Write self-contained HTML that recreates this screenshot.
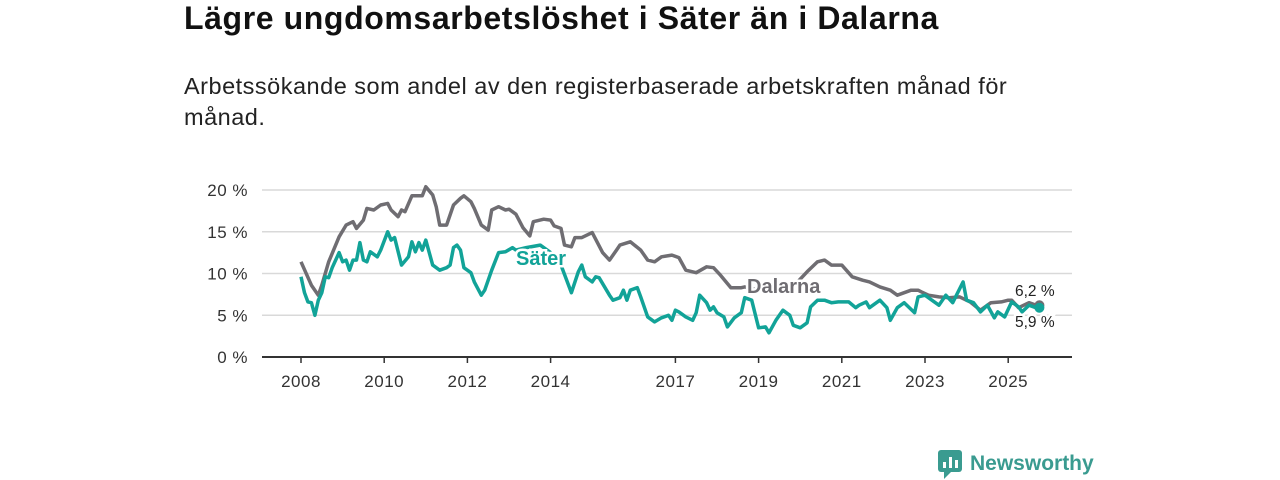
<!DOCTYPE html>
<html><head><meta charset="utf-8"><style>
body{margin:0;background:#fff;font-family:"Liberation Sans","DejaVu Sans",sans-serif;}
#wrap{position:relative;width:1280px;height:480px;overflow:hidden;}
h1{position:absolute;left:184px;top:0px;margin:0;font-size:32px;font-weight:bold;color:#111;letter-spacing:0.6px;}
p.sub{position:absolute;left:184px;top:71px;margin:0;font-size:23.5px;line-height:31px;color:#222;width:860px;letter-spacing:0.5px;}
svg{position:absolute;left:0;top:0;}
</style></head><body><div id="wrap">
<h1>Lägre ungdomsarbetslöshet i Säter än i Dalarna</h1>
<p class="sub">Arbetssökande som andel av den registerbaserade arbetskraften månad för månad.</p>
<svg id="c" width="1280" height="480"></svg>
</div>
<script>
const yTicks=[0,5,10,15,20];
const yTickLabels=["0 %","5 %","10 %","15 %","20 %"];
const xTickYears=[2008,2010,2012,2014,2017,2019,2021,2023,2025];
// month index since Jan 2008
const dalMonths=[0,3,5,6,8,11,13,15,16,18,19,21,23,25,26,28,29,30,32,35,36,38,39,40,42,44,46,47,49,50,52,54,55,57,59,60,62,64,66,67,70,72,73,75,76,78,79,81,84,87,89,91,92,95,98,100,102,104,107,109,111,114,117,119,121,124,127,128,132,137,141,146,149,151,153,156,159,162,164,167,170,172,174,176,178,179,181,184,187,190,193,196,199,202,204,205,207,210,212,213];
const dalValues=[11.4,8.6,7.4,8.6,11.4,14.4,15.8,16.2,15.4,16.4,17.8,17.6,18.2,18.4,17.6,16.8,17.6,17.4,19.3,19.3,20.4,19.4,18.0,15.8,15.8,18.2,19.0,19.3,18.6,17.8,15.8,15.2,17.6,18.0,17.6,17.7,17.1,15.5,14.5,16.2,16.5,16.4,15.7,15.4,13.4,13.2,14.3,14.3,14.9,12.5,11.6,12.8,13.4,13.8,12.8,11.6,11.4,12.0,12.2,11.9,10.4,10.1,10.8,10.7,9.8,8.3,8.3,8.4,8.0,7.8,8.0,10.2,11.4,11.6,11.0,11.0,9.6,9.2,9.0,8.4,8.0,7.4,7.7,8.0,8.0,7.8,7.4,7.2,7.1,7.2,6.6,5.6,6.5,6.6,6.8,6.8,5.9,6.5,6.2,6.2];
const satMonths=[0,1,2,3,4,5,6,7,8,9,11,12,13,14,15,16,17,18,19,20,22,23,25,26,27,29,31,32,33,34,35,36,38,40,42,43,44,45,46,47,49,50,52,53,55,57,59,61,62,65,69,72,75,78,80,81,82,84,85,86,89,90,92,93,94,95,97,98,100,102,104,106,107,108,109,111,113,114,115,117,118,119,120,122,123,125,127,128,130,132,134,135,137,139,141,142,144,146,147,149,151,153,155,158,160,161,163,164,167,169,170,172,174,177,178,180,182,184,186,188,191,192,194,196,198,200,201,203,205,207,208,210,212,213];
const satValues=[9.6,7.7,6.6,6.5,5.0,6.8,7.7,9.6,9.5,10.7,12.5,11.4,11.6,10.4,11.6,11.6,13.7,11.6,11.4,12.6,12.0,12.8,15.0,14.0,14.3,11.0,12.0,13.8,12.6,13.7,12.8,14.0,11.0,10.4,10.7,11.0,13.1,13.4,12.8,10.7,10.1,9.0,7.4,8.0,10.4,12.5,12.6,13.1,12.8,13.1,13.4,12.5,11.0,7.7,10.2,11.0,9.6,9.0,9.6,9.5,7.4,6.8,7.1,8.0,6.8,8.0,8.3,7.2,4.8,4.2,4.7,5.0,4.4,5.6,5.4,4.8,4.4,5.3,7.4,6.5,5.6,6.0,5.3,4.8,3.6,4.7,5.3,7.1,6.8,3.5,3.6,2.9,4.4,5.6,5.0,3.8,3.5,4.1,6.0,6.8,6.8,6.5,6.6,6.6,5.9,6.2,6.6,5.9,6.8,5.9,4.4,5.9,6.5,5.3,7.2,7.4,6.8,6.2,7.4,6.5,9.0,6.8,6.5,5.4,6.2,4.7,5.4,4.8,6.6,6.0,5.4,6.2,5.9,5.9];

const NS="http://www.w3.org/2000/svg";
const svg=document.getElementById('c');
const X0=262,X1=1072;
const xM=m=>301+m*41.6/12;
const xY=y=>xM((y-2008)*12);
const yV=v=>357-v*8.35;
function mk(t,a,p){const e=document.createElementNS(NS,t);for(const k in a)e.setAttribute(k,a[k]);(p||svg).appendChild(e);return e;}
yTicks.forEach((v,i)=>{
  if(v>0){const g=mk('line',{x1:X0,x2:X1,y1:yV(v),y2:yV(v),stroke:'#d9d9d9','stroke-width':1.5});
  
  }
  const t=mk('text',{x:248,y:yV(v)+6,'text-anchor':'end','font-size':17,fill:'#333','letter-spacing':0.5});t.textContent=yTickLabels[i];
  
  
});
const ax=mk('line',{x1:X0,x2:X1,y1:357,y2:357,stroke:'#333','stroke-width':2});


xTickYears.forEach(y=>{
  const tk=mk('line',{x1:xY(y),x2:xY(y),y1:357,y2:363,stroke:'#333','stroke-width':1.5});
  
  
  const t=mk('text',{x:xY(y),y:387,'text-anchor':'middle','font-size':17,fill:'#333','letter-spacing':0.5});t.textContent=y;
  
  
});
function line(ms,vs,col,name){
  const d=ms.map((m,i)=>(i?'L':'M')+xM(m).toFixed(1)+' '+yV(vs[i]).toFixed(1)).join(' ');
  const p=mk('path',{d:d,fill:'none',stroke:col,'stroke-width':3.5,'stroke-linejoin':'round'});
  
  
  const n=ms.length-1;
  const c=mk('circle',{cx:xM(ms[n]),cy:yV(vs[n]),r:5,fill:col});
  
  
}
line(dalMonths,dalValues,'#6f6d72','dalarna-line');
line(satMonths,satValues,'#12a398','sater-line');
function lbl(x,y,txt,col,sz,w,name,halo){
  const t=mk('text',{x:x,y:y,'font-size':sz,'font-weight':w,fill:col});
  if(halo){t.setAttribute('stroke','#fff');t.setAttribute('stroke-width',5);t.setAttribute('paint-order','stroke');}
  t.textContent=txt;
  
  
}
lbl(516,265,'Säter','#12a398',20,'bold','sater-series-label',true);
lbl(747,293,'Dalarna','#6f6d72',20,'bold','dalarna-series-label',true);
lbl(1015,296,'6,2 %','#222',15.5,'normal','dalarna-end-value',true);
lbl(1015,327,'5,9 %','#222',15.5,'normal','sater-end-value',true);
// logo
const lg=mk('g',{});


mk('rect',{x:938,y:450,width:24,height:22,rx:3,fill:'#3a9b90'},lg);
mk('path',{d:'M944 472 L944 479 L951 472 Z',fill:'#3a9b90'},lg);
[[943,462,3,6],[949,457,3,11],[955,460,3,8]].forEach(r=>mk('rect',{x:r[0],y:r[1],width:r[2],height:r[3],fill:'#fff'},lg));
const lt=mk('text',{x:970,y:470,'font-size':21,'font-weight':'bold',fill:'#3a9b90'},lg);lt.textContent='Newsworthy';
</script></body></html>
